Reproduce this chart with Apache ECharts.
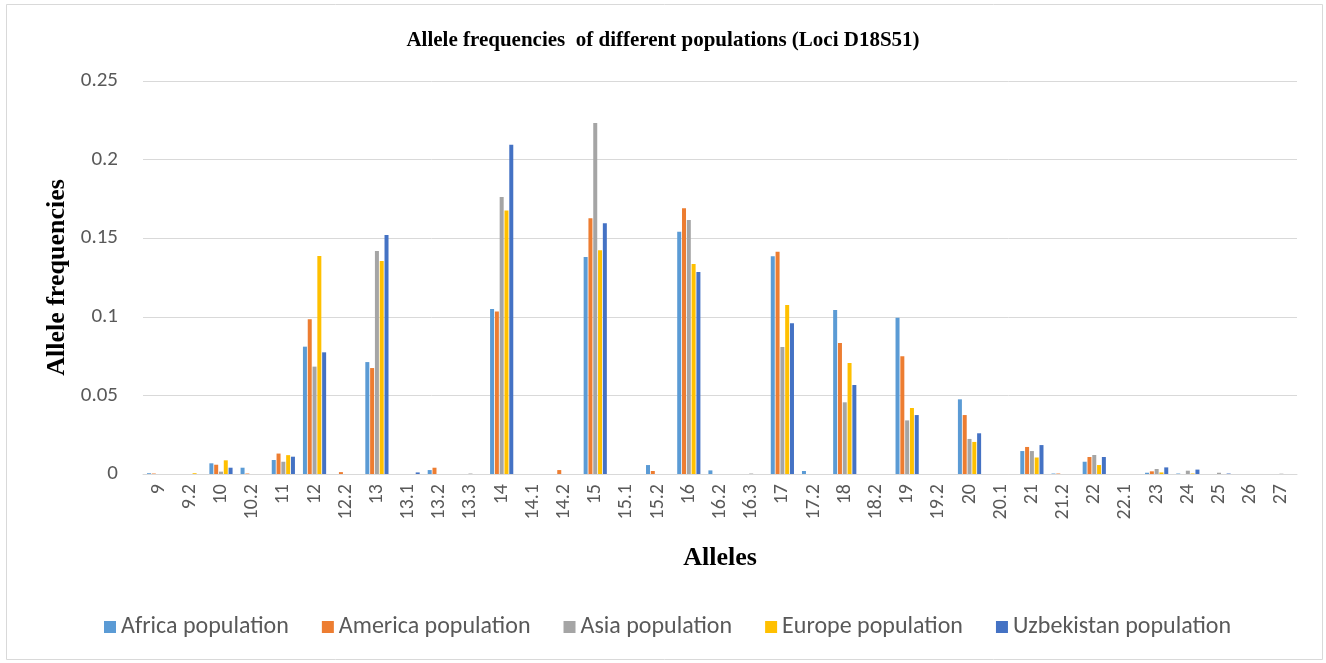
<!DOCTYPE html>
<html>
<head>
<meta charset="utf-8">
<script src="https://cdn.jsdelivr.net/npm/echarts@6/dist/echarts.min.js"></script>
<style>
  html, body { margin: 0; padding: 0; background: #ffffff; }
  #chart { width: 1326px; height: 663px; }
</style>
</head>
<body>
<div id="chart"></div>
<script>
// Allele categories for locus D18S51
const alleles = ['9', '9.2', '10', '10.2', '11', '12', '12.2', '13', '13.1', '13.2', '13.3',
  '14', '14.1', '14.2', '15', '15.1', '15.2', '16', '16.2', '16.3', '17', '17.2', '18', '18.2',
  '19', '19.2', '20', '20.1', '21', '21.2', '22', '22.1', '23', '24', '25', '26', '27'];

// Allele frequencies per population (same order as alleles)
const africa = [0.0005, 0, 0.0068, 0.004, 0.0089, 0.081, 0, 0.0712, 0, 0.0025, 0,
  0.105, 0, 0, 0.138, 0, 0.0057, 0.1541, 0.0023, 0, 0.1385, 0.0019, 0.1043, 0,
  0.0994, 0, 0.0475, 0, 0.0146, 0.0003, 0.0078, 0, 0.0008, 0.0003, 0, 0, 0];
const america = [0.0003, 0, 0.0059, 0.0003, 0.013, 0.0984, 0.0012, 0.0674, 0, 0.004, 0,
  0.1033, 0, 0.0025, 0.1627, 0, 0.0019, 0.169, 0, 0, 0.1414, 0, 0.0833, 0,
  0.0749, 0, 0.0375, 0, 0.0172, 0.0003, 0.0108, 0, 0.0017, 0, 0, 0, 0];
const asia = [0, 0, 0.0015, 0, 0.0078, 0.0683, 0, 0.1419, 0, 0, 0.0003,
  0.1762, 0, 0, 0.2233, 0, 0, 0.1616, 0, 0.0003, 0.0808, 0, 0.0456, 0,
  0.0341, 0, 0.0223, 0, 0.0146, 0, 0.0121, 0, 0.0032, 0.0021, 0.0008, 0, 0.0002];
const europe = [0, 0.0005, 0.0087, 0, 0.012, 0.1387, 0, 0.1355, 0, 0, 0,
  0.1677, 0, 0, 0.1423, 0, 0, 0.1336, 0, 0, 0.1075, 0, 0.0706, 0,
  0.042, 0, 0.0204, 0, 0.0105, 0, 0.0057, 0, 0.001, 0.0003, 0, 0, 0];
const uzbekistan = [0, 0, 0.004, 0, 0.011, 0.0774, 0, 0.152, 0.001, 0, 0,
  0.2095, 0, 0, 0.1595, 0, 0, 0.1285, 0, 0, 0.0959, 0, 0.0566, 0,
  0.0375, 0, 0.0259, 0, 0.0184, 0, 0.0108, 0, 0.0042, 0.0028, 0.0003, 0, 0];

const seriesNames = ['Africa population', 'America population', 'Asia population',
  'Europe population', 'Uzbekistan population'];
const seriesData = [africa, america, asia, europe, uzbekistan];
const seriesColors = ['#5B9BD5', '#ED7D31', '#A5A5A5', '#FFC000', '#4472C4'];

const sansFont = 'Carlito, Lato, "Liberation Sans", sans-serif';
const serifFont = '"Liberation Serif", "DejaVu Serif", serif';

const chart = echarts.init(document.getElementById('chart'), null, { renderer: 'canvas' });

chart.setOption({
  backgroundColor: '#ffffff',
  animation: false,
  color: seriesColors,
  title: {
    text: 'Allele frequencies  of different populations (Loci D18S51)',
    left: 'center',
    top: 25,
    textStyle: { fontFamily: serifFont, fontWeight: 'bold', fontSize: 21, color: '#000000' }
  },
  graphic: [{
    type: 'rect',
    shape: { x: 6.5, y: 4.5, width: 1316, height: 655 },
    style: { fill: 'none', stroke: '#d9d9d9', lineWidth: 1 },
    silent: true
  }],
  legend: {
    bottom: 24,
    left: 104,
    padding: 0,
    itemWidth: 12,
    itemHeight: 12,
    itemGap: 33,
    icon: 'rect',
    textStyle: { fontFamily: sansFont, fontSize: 24, color: '#595959' },
    data: seriesNames
  },
  grid: { left: 143, right: 29, top: 81, bottom: 189, containLabel: false },
  xAxis: {
    type: 'category',
    data: alleles,
    name: 'Alleles',
    nameLocation: 'middle',
    nameGap: 71,
    nameTextStyle: { fontFamily: serifFont, fontWeight: 'bold', fontSize: 26, color: '#000000' },
    axisLine: { lineStyle: { color: '#d9d9d9', width: 1 } },
    axisTick: { show: false },
    axisLabel: {
      rotate: 90,
      margin: 10,
      interval: 0,
      fontFamily: sansFont,
      fontSize: 20,
      color: '#595959'
    }
  },
  yAxis: {
    type: 'value',
    min: 0,
    max: 0.25,
    interval: 0.05,
    name: 'Allele frequencies',
    nameLocation: 'middle',
    nameGap: 73,
    nameTextStyle: { fontFamily: serifFont, fontWeight: 'bold', fontSize: 26, color: '#000000' },
    axisLine: { show: false },
    axisTick: { show: false },
    axisLabel: {
      margin: 25,
      fontFamily: sansFont,
      fontSize: 21,
      color: '#595959',
      formatter: function (v) { return v === 0 ? '0' : String(+v.toFixed(2)); }
    },
    splitLine: { lineStyle: { color: '#d9d9d9', width: 1 } }
  },
  series: seriesNames.map(function (name, i) {
    return {
      name: name,
      type: 'bar',
      data: seriesData[i],
      barWidth: 4,
      barGap: '20%',
      itemStyle: { color: seriesColors[i] }
    };
  })
});
</script>
</body>
</html>
